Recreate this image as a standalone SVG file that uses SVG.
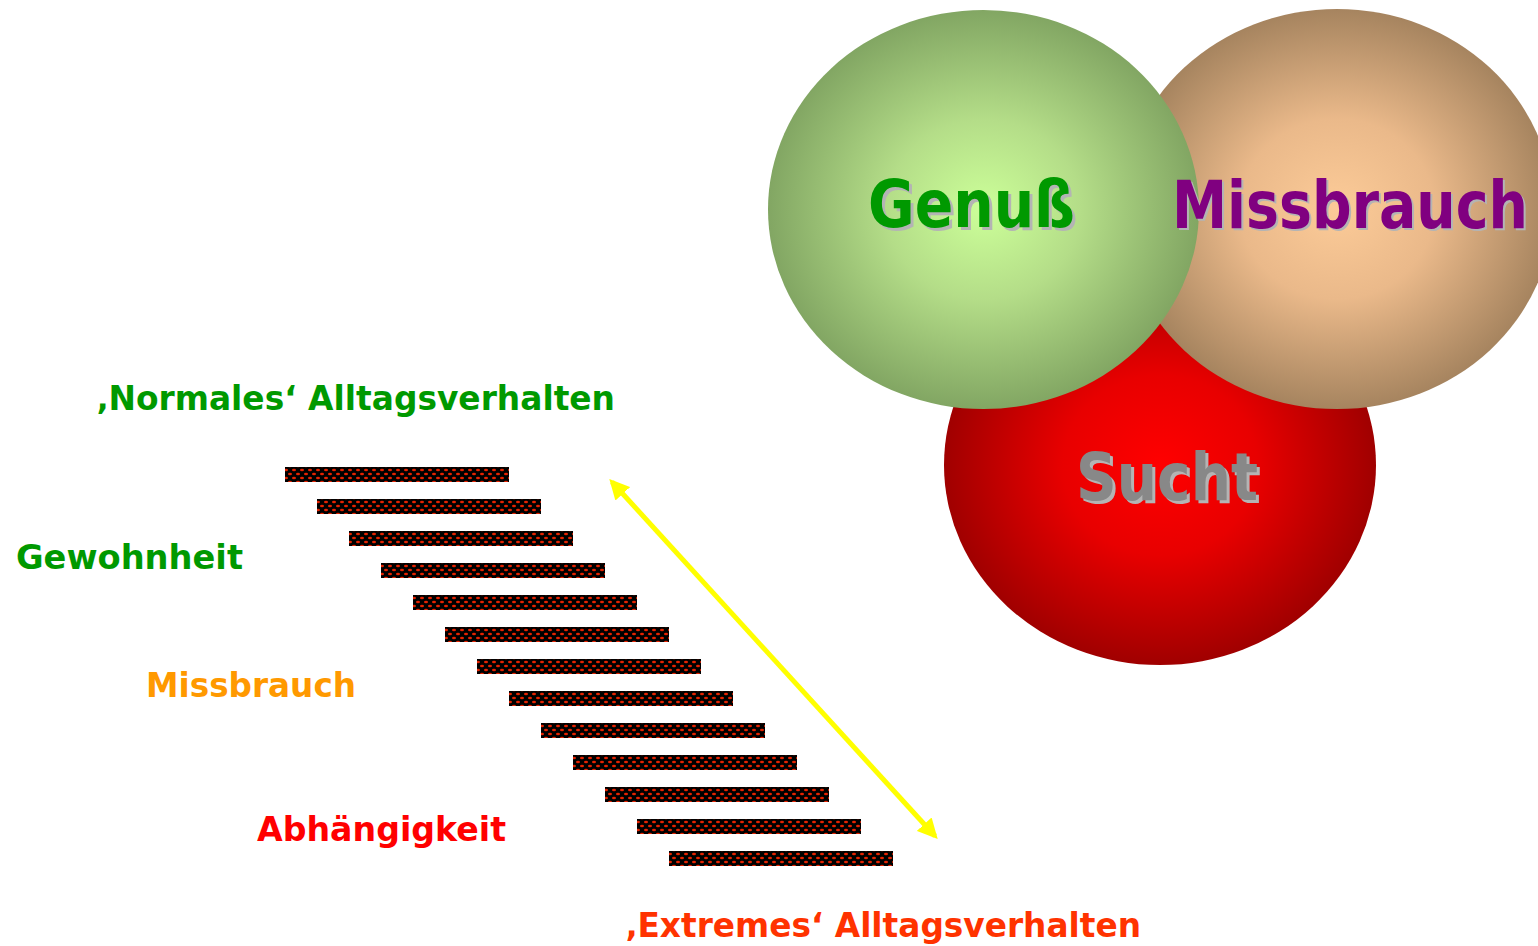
<svg xmlns="http://www.w3.org/2000/svg" width="1538" height="946" viewBox="0 0 1538 946">
<defs>
<radialGradient id="gGreen" cx="0.5" cy="0.5" r="0.5"><stop offset="0" stop-color="#ccff99"/><stop offset="0.45" stop-color="#b4dd88"/><stop offset="1" stop-color="#82a663"/></radialGradient>
<radialGradient id="gTan" cx="0.5" cy="0.5" r="0.5"><stop offset="0" stop-color="#fccb98"/><stop offset="0.45" stop-color="#eab98a"/><stop offset="1" stop-color="#a6845f"/></radialGradient>
<radialGradient id="gRed" cx="0.5" cy="0.5" r="0.5"><stop offset="0" stop-color="#ff0000"/><stop offset="0.45" stop-color="#e80000"/><stop offset="1" stop-color="#a00000"/></radialGradient>
<pattern id="dots" width="8" height="8" patternUnits="userSpaceOnUse">
<rect width="8" height="8" fill="#000"/>
<ellipse cx="2" cy="2" rx="2" ry="1.3" fill="#e62200"/>
<ellipse cx="6" cy="6" rx="2" ry="1.3" fill="#e62200"/>
</pattern>
<marker id="ah" viewBox="0 0 10 10" refX="8" refY="5" markerWidth="4" markerHeight="4" orient="auto-start-reverse">
<path d="M0,0 L10,5 L0,10 z" fill="#ffff00"/>
</marker>
</defs>
<style>
.lbl{font-family:"DejaVu Sans","Verdana",sans-serif;font-weight:bold;}
.big{font-family:"DejaVu Sans","Verdana",sans-serif;font-weight:bold;font-size:66px;}
.sh{fill:#b4b4b4;}
.bar{fill:url(#dots);}
</style>
<g id="circle-sucht">
<ellipse cx="1160" cy="465" rx="216" ry="200" fill="url(#gRed)"/>
</g>
<g id="circle-missbrauch">
<ellipse cx="1337" cy="209" rx="216" ry="200" fill="url(#gTan)"/>
</g>
<g id="circle-genuss">
<ellipse cx="983.5" cy="209.5" rx="215.5" ry="199.5" fill="url(#gGreen)"/>
</g>
<g id="text-genuss">
<text class="big sh" x="871" y="230" textLength="207" lengthAdjust="spacingAndGlyphs">Genuß</text>
<text class="big" x="868" y="227" fill="#009900" textLength="207" lengthAdjust="spacingAndGlyphs">Genuß</text>
</g>
<g id="text-missbrauch">
<text class="big sh" x="1174" y="230" textLength="356" lengthAdjust="spacingAndGlyphs">Missbrauch</text>
<text class="big" x="1172" y="228" fill="#800080" textLength="356" lengthAdjust="spacingAndGlyphs">Missbrauch</text>
</g>
<g id="text-sucht">
<text class="big sh" x="1079" y="503" textLength="182" lengthAdjust="spacingAndGlyphs">Sucht</text>
<text class="big" x="1076" y="500" fill="#888888" textLength="182" lengthAdjust="spacingAndGlyphs">Sucht</text>
</g>
<g id="stairs">
<rect class="bar" x="285" y="467" width="224" height="15"/>
<rect class="bar" x="317" y="499" width="224" height="15"/>
<rect class="bar" x="349" y="531" width="224" height="15"/>
<rect class="bar" x="381" y="563" width="224" height="15"/>
<rect class="bar" x="413" y="595" width="224" height="15"/>
<rect class="bar" x="445" y="627" width="224" height="15"/>
<rect class="bar" x="477" y="659" width="224" height="15"/>
<rect class="bar" x="509" y="691" width="224" height="15"/>
<rect class="bar" x="541" y="723" width="224" height="15"/>
<rect class="bar" x="573" y="755" width="224" height="15"/>
<rect class="bar" x="605" y="787" width="224" height="15"/>
<rect class="bar" x="637" y="819" width="224" height="15"/>
<rect class="bar" x="669" y="851" width="224" height="15"/>
</g>
<g id="connectors">
<line x1="612" y1="482" x2="935" y2="836" stroke="#ffff00" stroke-width="5" marker-start="url(#ah)" marker-end="url(#ah)"/>
</g>
<g id="labels">
<text class="lbl" x="96" y="410" font-size="34" fill="#009900" textLength="519" lengthAdjust="spacingAndGlyphs">‚Normales‘ Alltagsverhalten</text>
<text class="lbl" x="16" y="569" font-size="34" fill="#009900" textLength="227" lengthAdjust="spacingAndGlyphs">Gewohnheit</text>
<text class="lbl" x="146" y="697" font-size="34" fill="#ff9900" textLength="210" lengthAdjust="spacingAndGlyphs">Missbrauch</text>
<text class="lbl" x="257" y="841" font-size="34" fill="#ff0000" textLength="249" lengthAdjust="spacingAndGlyphs">Abhängigkeit</text>
<text class="lbl" x="625" y="937" font-size="34" fill="#ff3300" textLength="516" lengthAdjust="spacingAndGlyphs">‚Extremes‘ Alltagsverhalten</text>
</g>
</svg>
